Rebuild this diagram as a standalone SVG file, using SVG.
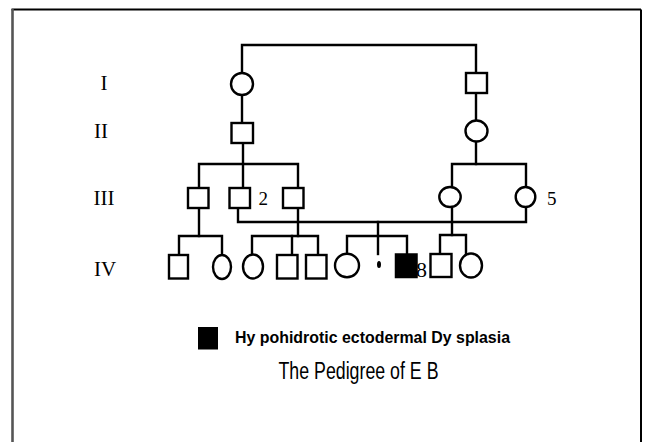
<svg xmlns="http://www.w3.org/2000/svg" width="654" height="442" viewBox="0 0 654 442">
  <style>
    .ln { fill: none; stroke: #000; stroke-width: 2.4; stroke-linecap: square; }
    .nd { fill: #fff; stroke: #000; stroke-width: 2.4; }
    .af { fill: #000; stroke: #000; stroke-width: 1.5; }
    .gen { font-family: "Liberation Serif", "Times New Roman", serif; font-size: 21px; fill: #000; text-anchor: middle; }
    .num { font-family: "Liberation Serif", "Times New Roman", serif; font-size: 19px; fill: #000; }
    .leg { font-family: "Liberation Sans", Arial, sans-serif; font-size: 16.5px; font-weight: bold; fill: #000; }
    .ttl { font-family: "Liberation Sans", Arial, sans-serif; font-size: 23px; fill: #000; }
  </style>

  <rect x="0" y="0" width="654" height="442" fill="#fff"/>

  <!-- page frame (open at the bottom) -->
  <g id="frame">
    <path d="M11.5,9.5 H641" fill="none" stroke="#000" stroke-width="2"/>
    <path d="M641,9.5 V442" fill="none" stroke="#000" stroke-width="2"/>
    <path d="M12.5,9 V442" fill="none" stroke="#555" stroke-width="2.6"/>
  </g>

  <!-- generation labels -->
  <g id="generations">
    <text class="gen" x="104" y="90">I</text>
    <text class="gen" x="101" y="138">II</text>
    <text class="gen" x="104" y="205">III</text>
    <text class="gen" x="105" y="276">IV</text>
  </g>

  <!-- connectors -->
  <g id="connectors">
    <!-- generation I couple -->
    <path class="ln" d="M242,73 V45 H476 V73"/>
    <path class="ln" d="M242,95 V123"/>
    <path class="ln" d="M476,93 V120"/>
    <!-- sibships of generation III -->
    <path class="ln" d="M243,143 V188"/>
    <path class="ln" d="M199,188 V164 H298 V188"/>
    <path class="ln" d="M476,141 V164"/>
    <path class="ln" d="M452,187 V164 H526 V187"/>
    <!-- III-2 x III-5 marriage -->
    <path class="ln" d="M238,208 V222 H526 V207"/>
    <!-- descent lines to generation IV -->
    <path class="ln" d="M199,208 V236"/>
    <path class="ln" d="M298,208 V236"/>
    <path class="ln" d="M452,207 V235"/>
    <path class="ln" d="M378,222 V254"/>
    <!-- sibship lines of generation IV -->
    <path class="ln" d="M179,255 V236 H222 V255"/>
    <path class="ln" d="M252,255 V236 H318 V255"/>
    <path class="ln" d="M292,236 V255"/>
    <path class="ln" d="M347,254 V236 H407 V254"/>
    <path class="ln" d="M440,254 V235 H466 V254"/>
  </g>

  <!-- generation I -->
  <g id="I-1"><ellipse class="nd" cx="242" cy="84" rx="11" ry="11"/></g>
  <g id="I-2"><rect class="nd" x="466" y="73" width="21" height="20"/></g>

  <!-- generation II -->
  <g id="II-1"><rect class="nd" x="231.5" y="123" width="21.5" height="20"/></g>
  <g id="II-2"><ellipse class="nd" cx="476.5" cy="131" rx="11" ry="10.5"/></g>

  <!-- generation III -->
  <g id="III-1"><rect class="nd" x="188" y="188" width="20.5" height="20"/></g>
  <g id="III-2">
    <rect class="nd" x="229.5" y="188" width="20.5" height="20"/>
    <text class="num" x="258.5" y="205">2</text>
  </g>
  <g id="III-3"><rect class="nd" x="283" y="188" width="20.5" height="20"/></g>
  <g id="III-4"><ellipse class="nd" cx="450" cy="197" rx="10.7" ry="10"/></g>
  <g id="III-5">
    <ellipse class="nd" cx="525.5" cy="197" rx="9.8" ry="10"/>
    <text class="num" x="547" y="205">5</text>
  </g>

  <!-- generation IV -->
  <g id="IV-1"><rect class="nd" x="169" y="255" width="19" height="23.5"/></g>
  <g id="IV-2"><ellipse class="nd" cx="222" cy="267" rx="9" ry="12"/></g>
  <g id="IV-3"><ellipse class="nd" cx="253" cy="266.5" rx="10" ry="12"/></g>
  <g id="IV-4"><rect class="nd" x="277" y="255" width="20.5" height="23.5"/></g>
  <g id="IV-5"><rect class="nd" x="306" y="255" width="20.5" height="23.5"/></g>
  <g id="IV-6"><ellipse class="nd" cx="347" cy="265.5" rx="12" ry="11.7"/></g>
  <g id="IV-7"><ellipse fill="#000" cx="379" cy="264.5" rx="2" ry="3.5"/></g>
  <g id="IV-8">
    <rect class="af" x="395.5" y="254" width="21.5" height="23.5"/>
    <text class="num" x="416" y="277" style="font-size:22px">8</text>
  </g>
  <g id="IV-9"><rect class="nd" x="430.5" y="254" width="21" height="23"/></g>
  <g id="IV-10"><ellipse class="nd" cx="471" cy="265.5" rx="11" ry="12"/></g>

  <!-- legend -->
  <g id="legend">
    <rect fill="#000" x="198" y="327" width="20" height="22.5"/>
    <text class="leg" x="235" y="342.5" textLength="275" lengthAdjust="spacingAndGlyphs">Hy pohidrotic ectodermal Dy splasia</text>
  </g>

  <!-- caption -->
  <g id="caption">
    <text class="ttl" x="278.5" y="378.5" textLength="160" lengthAdjust="spacingAndGlyphs">The Pedigree of E B</text>
  </g>
</svg>
